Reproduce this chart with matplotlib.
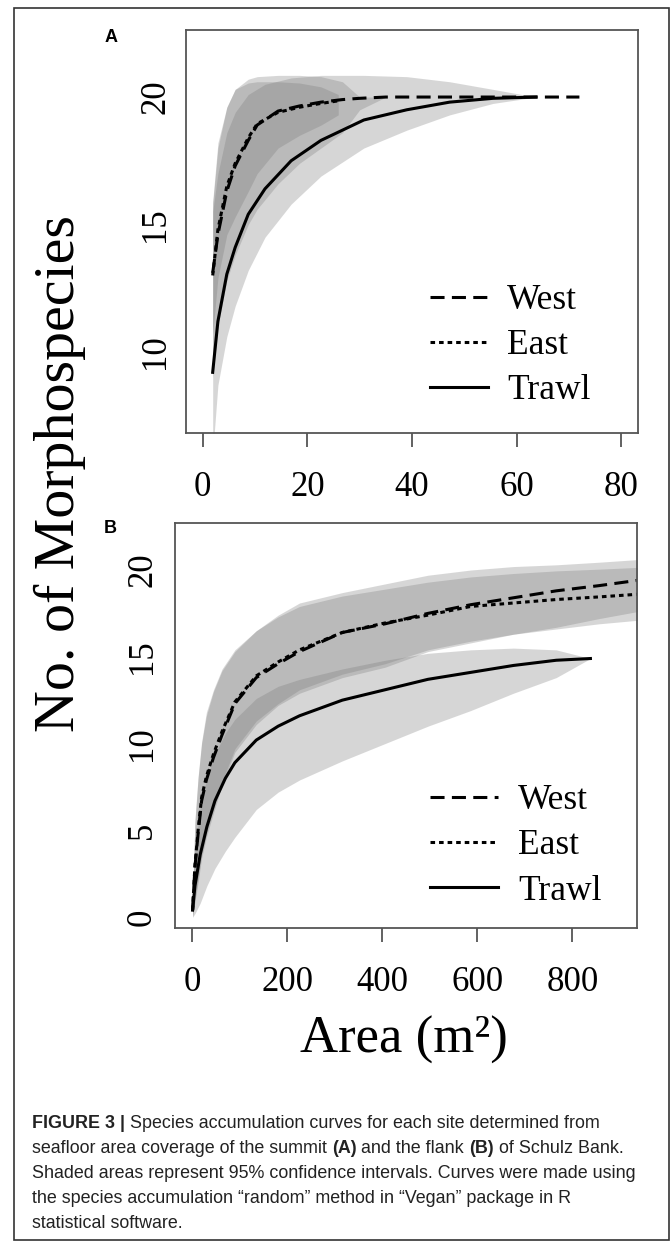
import matplotlib
matplotlib.use('Agg')
import matplotlib.pyplot as plt
from matplotlib.patches import Rectangle

# ---- data ----
# panel A (summit)
a_west_x = [1.9, 2.9, 4.6, 6.2, 8.7, 10.4, 14.4, 18.5, 22.6, 26.7, 30, 35, 43, 51, 59.5, 64, 72]
a_west = [13.1, 14.6, 16.3, 17.3, 18.3, 18.9, 19.45, 19.65, 19.8, 19.9, 19.95, 20, 20, 20, 20, 20, 20]
a_west_hi = [15.8, 18.0, 19.6, 20.3, 20.7, 20.8, 20.85, 20.85, 20.8, 20.6, 20.0, 20, 20, 20, 20, 20, 20]
a_west_lo = [9.0, 11.0, 12.8, 13.8, 15.0, 15.6, 16.6, 17.4, 18.0, 18.6, 19.5, 20, 20, 20, 20, 20, 20]

a_east_x = [1.9, 2.9, 4.6, 6.2, 8.7, 10.4, 14.4, 18.5, 22.6, 25.9]
a_east = [13.0, 14.8, 16.5, 17.4, 18.4, 18.95, 19.4, 19.6, 19.75, 19.85]
a_east_hi = [15.9, 18.2, 19.6, 20.3, 20.55, 20.6, 20.6, 20.55, 20.4, 20.1]
a_east_lo = [10.7, 12.9, 14.6, 15.3, 16.3, 17.0, 18.0, 18.5, 18.9, 19.3]

a_trawl_x = [1.9, 2.9, 4.6, 6.2, 8.7, 11.9, 16.9, 22.6, 30.8, 39, 47.2, 55.5, 63.7]
a_trawl = [9.2, 11.2, 13.05, 14.1, 15.4, 16.4, 17.5, 18.3, 19.1, 19.5, 19.8, 19.95, 20.0]
a_trawl_hi = [15.5, 17.0, 18.6, 19.4, 20.1, 20.5, 20.75, 20.85, 20.85, 20.8, 20.6, 20.3, 20.0]
a_trawl_lo = [6.0, 8.7, 10.6, 11.8, 13.2, 14.5, 15.8, 16.9, 18.0, 18.7, 19.3, 19.75, 20.0]

# panel B (flank)
b_x = [1, 6, 12.6, 20, 30, 45, 63, 90, 135, 181, 226, 316, 406, 496, 586, 676, 766, 856, 936, 980]
b_west = [0.4, 2.9, 4.8, 6.7, 7.9, 9.2, 10.5, 12.3, 13.8, 14.6, 15.3, 16.4, 16.9, 17.5, 18.0, 18.4, 18.8, 19.1, 19.4, 19.55]
b_west_hi = [1.2, 5.5, 8.0, 10.0, 11.6, 13.0, 14.2, 15.3, 16.5, 17.4, 18.1, 18.7, 19.2, 19.7, 20.0, 20.2, 20.3, 20.45, 20.6, 20.65]
b_west_lo = [0, 0.9, 2.0, 3.4, 4.6, 6.0, 7.6, 9.5, 11.1, 12.2, 12.9, 13.8, 14.4, 15.3, 15.8, 16.3, 16.7, 17.2, 17.6, 17.8]
b_east = [0.4, 3.0, 5.0, 6.9, 8.1, 9.4, 10.7, 12.4, 13.9, 14.7, 15.4, 16.4, 16.95, 17.4, 17.9, 18.1, 18.3, 18.45, 18.6, 18.65]
b_east_hi = [1.2, 5.6, 8.1, 10.1, 11.8, 13.1, 14.3, 15.4, 16.5, 17.3, 17.9, 18.5, 18.9, 19.3, 19.6, 19.8, 19.95, 20.05, 20.15, 20.2]
b_east_lo = [0, 1.0, 2.2, 3.6, 4.8, 6.2, 7.8, 9.7, 11.3, 12.3, 13.1, 14.0, 14.6, 15.4, 15.9, 16.3, 16.6, 16.9, 17.1, 17.2]

b_trawl_x = [1, 6, 17, 31, 48, 70, 90, 135, 181, 226, 316, 406, 496, 586, 676, 766, 838]
b_trawl = [0.4, 1.8, 3.6, 5.2, 6.7, 8.0, 8.9, 10.2, 11.0, 11.6, 12.5, 13.1, 13.7, 14.1, 14.5, 14.8, 14.9]
b_trawl_hi = [1.2, 4.0, 6.3, 8.0, 9.4, 10.6, 11.4, 12.6, 13.3, 13.7, 14.3, 14.8, 15.2, 15.4, 15.5, 15.4, 14.9]
b_trawl_lo = [0, 0.2, 0.8, 1.8, 2.8, 3.8, 4.6, 6.2, 7.2, 7.9, 9.0, 10.0, 11.0, 11.9, 12.9, 13.8, 14.9]

a_xticks = [0, 20, 40, 60, 80]
a_yticks = [10, 15, 20]
b_xticks = [0, 200, 400, 600, 800]
b_yticks = [0, 5, 10, 15, 20]
labels = ['West', 'East', 'Trawl']

caption = [
    [('FIGURE 3 |', 'bold'), (' Species accumulation curves for each site determined from', 'normal')],
    [('seafloor area coverage of the summit ', 'normal'), ('(A)', 'bold'), (' and the flank ', 'normal'),
     ('(B)', 'bold'), (' of Schulz Bank.', 'normal')],
    [('Shaded areas represent 95% confidence intervals. Curves were made using', 'normal')],
    [('the species accumulation \u201crandom\u201d method in \u201cVegan\u201d package in R', 'normal')],
    [('statistical software.', 'normal')],
]

W, H = 671, 1248
plt.rcParams['font.family'] = ['Liberation Serif', 'DejaVu Serif']
fig = plt.figure(figsize=(W / 100, H / 100), dpi=100)


def px_box(l, t, r, b):
    return [l / W, 1 - b / H, (r - l) / W, (b - t) / H]


west_ls = (0, (4.6, 2.4))
east_ls = (0, (1.5, 1.3))
band = dict(color='#7a7a7a', alpha=0.3, lw=0)
edge = '#555555'


def style(ax, xticks, yticks, ypad):
    for s in ax.spines.values():
        s.set_color(edge)
        s.set_linewidth(1.3)
    ax.set_xticks(xticks)
    ax.set_yticks(yticks)
    ax.tick_params(axis='x', length=10, width=1.3, color=edge, pad=17.5, labelsize=25)
    ax.tick_params(axis='y', length=0, pad=ypad, labelsize=25, labelrotation=90)
    for t in ax.get_yticklabels():
        t.set_va('center')


leg_kw = dict(loc='center left', frameon=False, fontsize=25.5, borderpad=0,
              borderaxespad=0, labelspacing=0.34)

# panel A
axA = fig.add_axes(px_box(186, 30, 638, 433))
axA.fill_between(a_trawl_x, a_trawl_lo, a_trawl_hi, **band)
axA.fill_between(a_west_x, a_west_lo, a_west_hi, **band)
axA.fill_between(a_east_x, a_east_lo, a_east_hi, **band)
lw_ = axA.plot(a_west_x, a_west, color='black', lw=2.2, ls=west_ls)[0]
le_ = axA.plot(a_east_x, a_east, color='black', lw=2.2, ls=east_ls)[0]
lt_ = axA.plot(a_trawl_x, a_trawl, color='black', lw=2.2)[0]
axA.set_xlim(-3.2, 83.2)
axA.set_ylim(6.82, 22.63)
style(axA, a_xticks, a_yticks, 10)
axA.legend([lw_, le_, lt_], labels, bbox_to_anchor=(0.54, 0.216),
           handlelength=1.64, handletextpad=0.54, **leg_kw)

# panel B
axB = fig.add_axes(px_box(175, 523, 637, 928))
axB.fill_between(b_trawl_x, b_trawl_lo, b_trawl_hi, **band)
axB.fill_between(b_x, b_west_lo, b_west_hi, **band)
axB.fill_between(b_x, b_east_lo, b_east_hi, **band)
lw_ = axB.plot(b_x, b_west, color='black', lw=2.2, ls=west_ls)[0]
le_ = axB.plot(b_x, b_east, color='black', lw=2.2, ls=east_ls)[0]
lt_ = axB.plot(b_trawl_x, b_trawl, color='black', lw=2.2)[0]
axB.set_xlim(-36, 936)
axB.set_ylim(-0.63, 22.71)
style(axB, b_xticks, b_yticks, 11.5)
axB.legend([lw_, le_, lt_], labels, bbox_to_anchor=(0.552, 0.2025),
           handlelength=1.92, handletextpad=0.56, **leg_kw)

# shared axis titles and panel letters
fig.text(60 / W, 1 - 474 / H, 'No. of Morphospecies', rotation=90, ha='center', va='center', fontsize=41.8)
fig.text(404 / W, 1 - 1040 / H, 'Area (m\u00b2)', ha='center', va='center', fontsize=38)
fig.text(111 / W, 1 - 38 / H, 'A', family='Liberation Sans', fontweight='bold', fontsize=13, ha='center', va='center')
fig.text(110 / W, 1 - 529 / H, 'B', family='Liberation Sans', fontweight='bold', fontsize=13, ha='center', va='center')

# outer frame
fig.patches.append(Rectangle((14 / W, 1 - 1240 / H), 655 / W, 1232 / H, transform=fig.transFigure,
                             fill=False, ec='#333333', lw=1.2))

# caption with bold pieces
renderer = fig.canvas.get_renderer()
base_y = [1128, 1153, 1178, 1203, 1228]
for row, y in zip(caption, base_y):
    x = 32
    for txt, wt in row:
        t = fig.text(x / W, 1 - y / H, txt, family='Liberation Sans', fontweight=wt,
                     fontsize=12.9, color='#222222', va='baseline', ha='left')
        x += t.get_window_extent(renderer).width

fig.savefig('out.png', dpi=100)
